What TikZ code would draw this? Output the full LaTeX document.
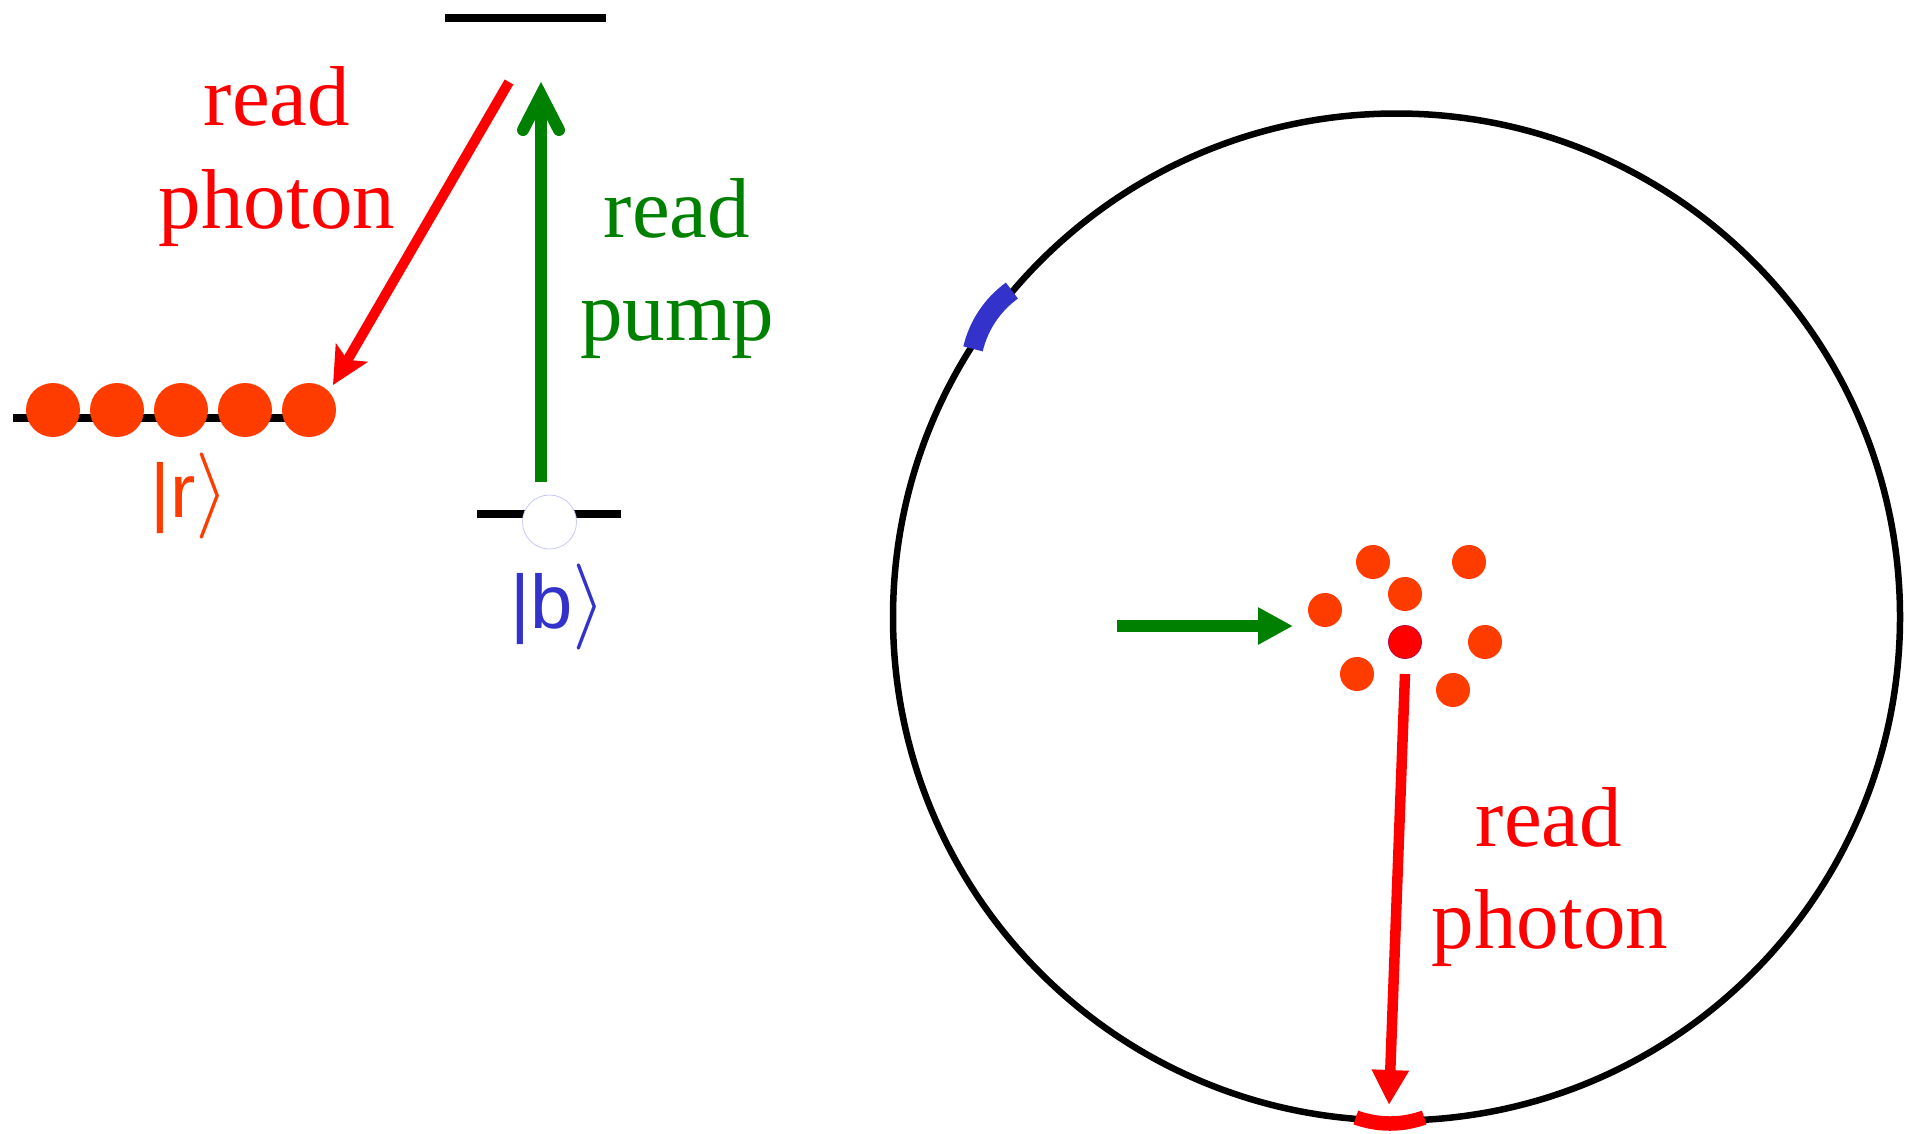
\RequirePackage{fix-cm}
\documentclass[tikz,border=0pt]{standalone}
\usepackage{fontspec}
\setmainfont{Liberation Serif}
\newfontfamily\ketfont{Liberation Sans}
\usetikzlibrary{arrows.meta}
\definecolor{dotorange}{RGB}{255,60,0}
\definecolor{pumpgreen}{RGB}{0,128,0}
\definecolor{ketblue}{RGB}{51,51,204}
\definecolor{photonred}{RGB}{255,0,0}
\definecolor{darkdotrim}{RGB}{190,0,70}
\definecolor{openrim}{RGB}{200,200,250}
\newcommand{\ketclose}{{\fontsize{86}{90}\selectfont$\rangle$}}
\begin{document}
\begin{tikzpicture}[x=1pt,y=-1pt,
  level/.style={line width=7.5pt, black},
  atom/.style={circle, fill=dotorange, inner sep=0pt, minimum size=54pt},
  cloudatom/.style={circle, fill=dotorange, inner sep=0pt, minimum size=34pt},
  lbl/.style={font=\fontsize{85}{103}\selectfont, inner sep=0pt, anchor=base},
  ket/.style={font=\ketfont\fontsize{76}{90}\selectfont, inner sep=0pt, anchor=base},
  photon/.style={photonred, line width=10pt},
  tri/.style={-{Triangle[length=35pt,width=35pt]}},
]
\useasboundingbox (0,0) rectangle (1905,1133);

% ---------- level scheme (left) ----------
\coordinate (topL) at (445,18);
\coordinate (topR) at (606,18);
\draw[level] (topL) -- (topR);

\coordinate (rL) at (13,418);
\coordinate (rR) at (285,418);
\draw[level] (rL) -- (rR);

\coordinate (bL) at (477,514);
\coordinate (bR) at (621,514);
\draw[level] (bL) -- (bR);

\node[atom] (a1) at (53,410) {};
\node[atom] (a2) at (117,410) {};
\node[atom] (a3) at (181,410) {};
\node[atom] (a4) at (245,410) {};
\node[atom] (a5) at (309,410) {};

\node[circle, draw=openrim, fill=white, line width=0.8pt, minimum size=54pt, inner sep=0pt] (bopen) at (549.5,522) {};

% read photon (left)
\coordinate (rpStart) at (509,82);
\coordinate (rpTip) at (333,385);
\draw[photon, -{Stealth[length=37pt,width=36pt,inset=8pt]}] (rpStart) -- (rpTip);

% read pump (vertical)
\coordinate (pumpFoot) at (541,482);
\coordinate (pumpApex) at (541,95);
\coordinate (pumpWL) at (523,130);
\coordinate (pumpWR) at (559,130);
\draw[pumpgreen, line width=11.5pt] (pumpFoot) -- ([yshift=-8pt]pumpApex);
\draw[pumpgreen, line width=12pt, line cap=round, line join=miter, miter limit=10] (pumpWL) -- (pumpApex) -- (pumpWR);

\node[lbl, text=photonred] (rpl1) at (277,125.5) {read};
\node[lbl, text=photonred] (rpl2) at (277,228.5) {photon};
\node[lbl, text=pumpgreen] (pl1) at (677,237) {read};
\node[lbl, text=pumpgreen] (pl2) at (677,340) {pump};

\node[ket, text=dotorange] (ketr) at (190,517) {|r\ketclose};
\node[ket, text=ketblue] (ketb) at (558,628) {|b\ketclose};

% ---------- cavity (right) ----------
\node[circle, draw=black, line width=6.5pt, minimum size=1007pt, inner sep=0pt] (cavity) at (1396.5,617) {};

% mirrors
\draw[ketblue, line width=20pt] ([shift={(193.2:100)}]1070.4,371.7) arc[start angle=193.2, end angle=234.2, radius=100];
\draw[photonred, line width=14.5pt] ([shift={(70:100)}]1390,1023.5) arc[start angle=70, end angle=110, radius=100];

% atom cloud
\node[cloudatom] (c1) at (1373,562) {};
\node[cloudatom] (c2) at (1469,562) {};
\node[cloudatom] (c3) at (1405,594) {};
\node[cloudatom] (c4) at (1325,610) {};
\node[circle, fill=photonred, draw=darkdotrim, line width=0.8pt, minimum size=33pt, inner sep=0pt] (c5) at (1405,642) {};
\node[cloudatom] (c6) at (1485,642) {};
\node[cloudatom] (c7) at (1357,674) {};
\node[cloudatom] (c8) at (1453,690) {};

% pump beam
\coordinate (beamStart) at (1117,626);
\coordinate (beamTip) at (1293,626);
\draw[pumpgreen, line width=12pt, tri] (beamStart) -- (beamTip);

% emitted read photon
\coordinate (emitStart) at (1405,674);
\coordinate (emitTip) at (1389,1105);
\draw[photonred, line width=10.5pt, tri] (emitStart) -- (emitTip);

\node[lbl, text=photonred] (rpr1) at (1549,846) {read};
\node[lbl, text=photonred] (rpr2) at (1550,948) {photon};
\end{tikzpicture}
\end{document}
